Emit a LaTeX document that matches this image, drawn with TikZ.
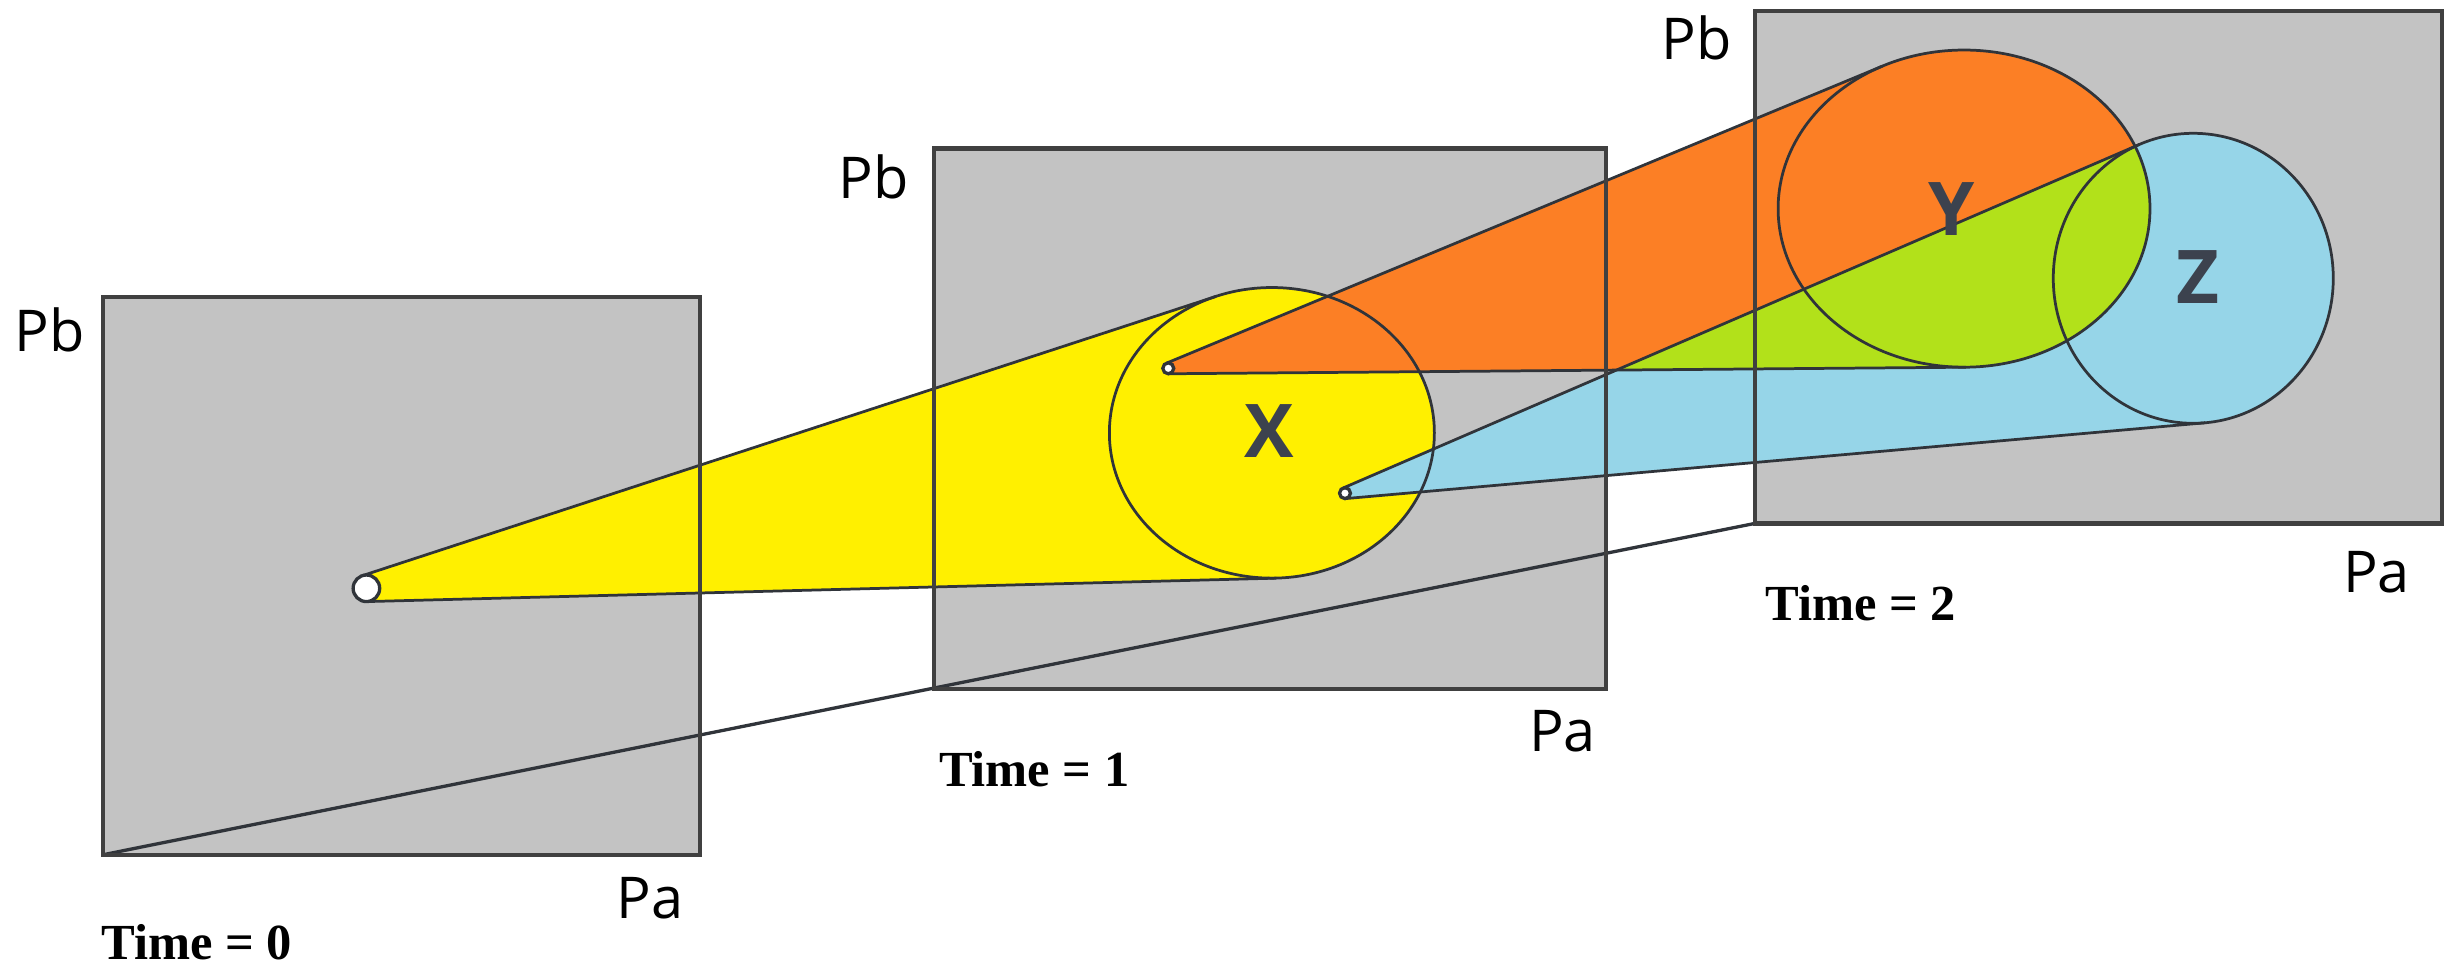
\documentclass[tikz,border=0pt]{standalone}
\usepackage{fontspec}
\setmainfont{Liberation Serif}
\newfontfamily\labfont{Open Sans}
\definecolor{boxgray}{RGB}{195,195,195}
\definecolor{yel}{RGB}{255,240,0}
\definecolor{ora}{RGB}{252,127,37}
\definecolor{blu}{RGB}{150,213,232}
\definecolor{grn}{RGB}{178,225,26}
\definecolor{labcol}{RGB}{60,66,78}
\definecolor{linecol}{RGB}{48,52,58}
\definecolor{framecol}{RGB}{64,64,64}
\begin{document}
\begin{tikzpicture}[x=0.1mm,y=-0.1mm,
  frame/.style={draw=framecol, line width=0.75pt},
  edge/.style={draw=linecol, line width=0.5pt},
  axislab/.style={font=\labfont\fontsize{10.5}{12}\selectfont, text=black, inner sep=0},
  timelab/.style={font=\bfseries\fontsize{9.2}{11}\selectfont, text=black, inner sep=0},
  setlab/.style={font=\labfont\bfseries\fontsize{13.5}{15}\selectfont, text=labcol, inner sep=0},
  apexdot/.style={fill=white, draw=linecol, line width=0.6pt}]

\useasboundingbox (0,0) rectangle (1568,616);

% frames (corners)
\coordinate (B0a) at (66,190);   \coordinate (B0b) at (448,547);
\coordinate (B1a) at (598,95);   \coordinate (B1b) at (1028,441);
\coordinate (B2a) at (1123,7);   \coordinate (B2b) at (1563,335);
\coordinate (L0) at (66,547);    \coordinate (L2) at (1123,335);

% centres
\coordinate (P0) at (234.5,376.5);
\coordinate (P1) at (747.7,235.7);
\coordinate (P2) at (860.8,315.6);
\coordinate (X) at (814,277);
\coordinate (Y) at (1257,133.5);
\coordinate (Z) at (1403.7,178.1);

% tangent points
\coordinate (YA1) at (231.85,368.42); \coordinate (YT1) at (778.2,189.7);
\coordinate (YA2) at (234.71,385.0);  \coordinate (YT2) at (816.9,370.0);
\coordinate (OA1) at (746.36,232.47); \coordinate (OT1) at (1204.9,42.25);
\coordinate (OA2) at (747.73,239.2);  \coordinate (OT2) at (1258.1,235.0);
\coordinate (BA1) at (859.41,312.39); \coordinate (BT1) at (1369.25,92.43);
\coordinate (BA2) at (861.11,319.09); \coordinate (BT2) at (1411.31,270.56);

% gray boxes
\fill[boxgray] (B0a) rectangle (B0b);
\fill[boxgray] (B1a) rectangle (B1b);
\fill[boxgray] (B2a) rectangle (B2b);

% yellow
\fill[yel] (YA1) -- (YT1) -- (YT2) -- (YA2) -- cycle;
\fill[yel] (X) ellipse [x radius=104, y radius=93];
% orange
\fill[ora] (OA1) -- (OT1) -- (OT2) -- (OA2) -- cycle;
\fill[ora] (Y) ellipse [x radius=119, y radius=101.5];
% blue
\fill[blu] (BA1) -- (BT1) -- (BT2) -- (BA2) -- cycle;
\fill[blu] (Z) ellipse [x radius=89.6, y radius=92.8];
% green = orange shape and blue shape
\begin{scope}
  \clip (OA1) -- (OT1) -- (OT2) -- (OA2) -- cycle;
  \fill[grn] (BA1) -- (BT1) -- (BT2) -- (BA2) -- cycle;
  \fill[grn] (Z) ellipse [x radius=89.6, y radius=92.8];
\end{scope}
\begin{scope}
  \clip (Y) ellipse [x radius=119, y radius=101.5];
  \fill[grn] (BA1) -- (BT1) -- (BT2) -- (BA2) -- cycle;
  \fill[grn] (Z) ellipse [x radius=89.6, y radius=92.8];
\end{scope}

% outlines
\draw[edge] (YA1) -- (YT1);
\draw[edge] (YA2) -- (YT2);
\draw[edge] (X) ellipse [x radius=104, y radius=93];
\draw[edge] (OA1) -- (OT1);
\draw[edge] (OA2) -- (OT2);
\draw[edge] (Y) ellipse [x radius=119, y radius=101.5];
\draw[edge] (BA1) -- (BT1);
\draw[edge] (BA2) -- (BT2);
\draw[edge] (Z) ellipse [x radius=89.6, y radius=92.8];

\draw[apexdot] (P0) circle [radius=8.5];
\draw[apexdot] (P1) circle [radius=3.5];
\draw[apexdot] (P2) circle [radius=3.5];

% diagonal
\draw[edge, line width=0.6pt] (L0) -- (L2);

% frames
\draw[frame] (B0a) rectangle (B0b);
\draw[frame] (B1a) rectangle (B1b);
\draw[frame] (B2a) rectangle (B2b);

% labels
\node[axislab] (pb0) at (32,211) {Pb};
\node[axislab] (pa0) at (416,575) {Pa};
\node[timelab] (t0) at (126,603) {Time = 0};
\node[axislab] (pb1) at (559,113) {Pb};
\node[axislab] (pa1) at (1000,468) {Pa};
\node[timelab] (t1) at (662,492) {Time = 1};
\node[axislab] (pb2) at (1086,24) {Pb};
\node[axislab] (pa2) at (1521,366) {Pa};
\node[timelab] (t2) at (1191,386) {Time = 2};

\node[setlab] (lx) at (812,276) {X};
\node[setlab] (ly) at (1249,134) {Y};
\node[setlab] (lz) at (1407,177) {Z};
\end{tikzpicture}
\end{document}
